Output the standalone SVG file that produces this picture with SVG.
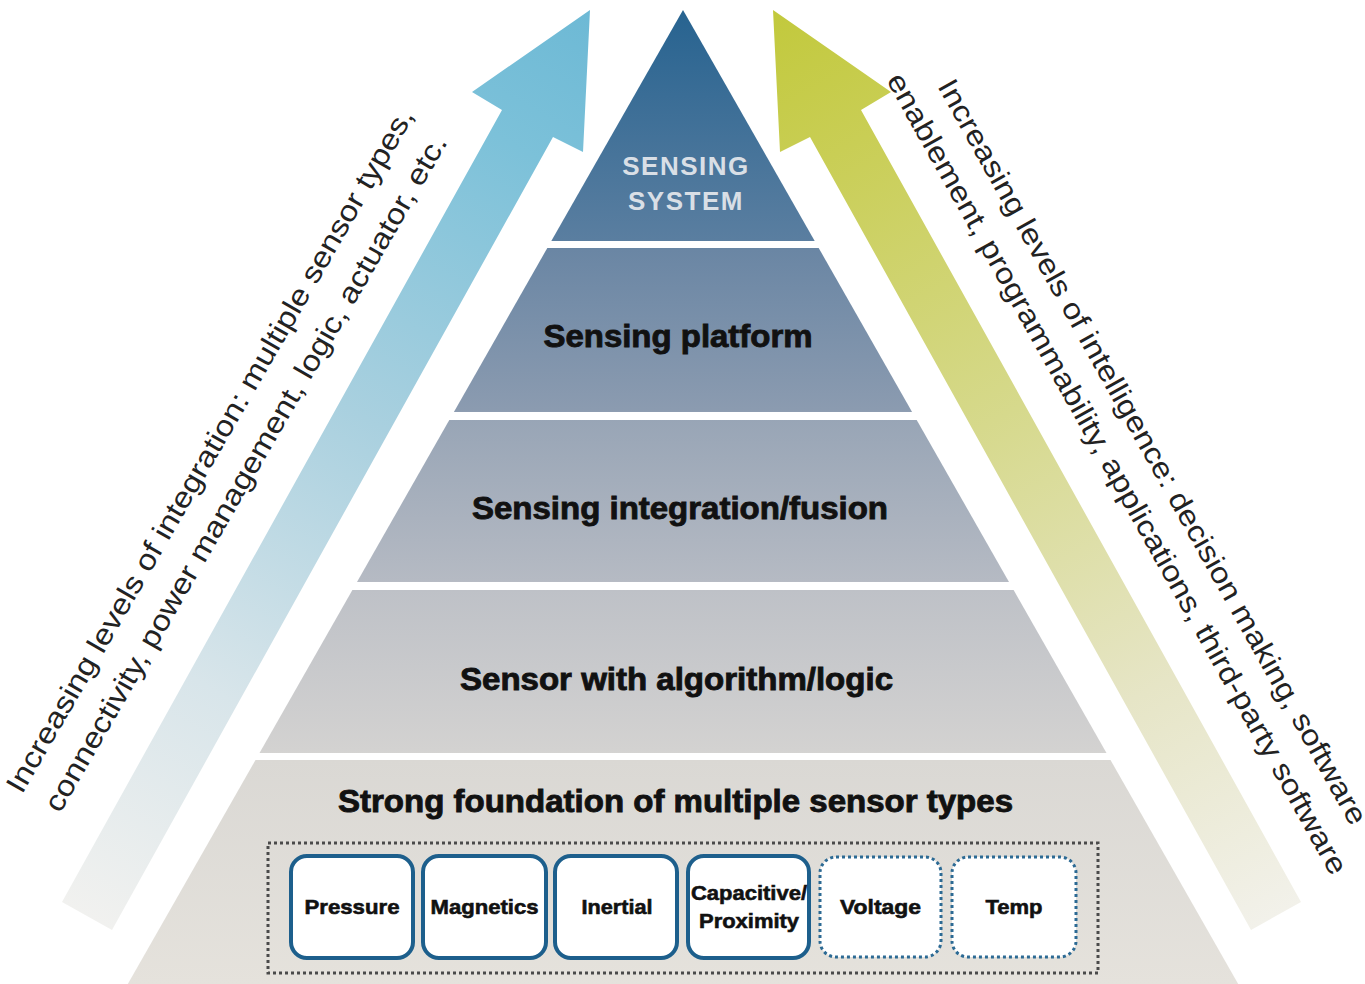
<svg xmlns="http://www.w3.org/2000/svg" width="1365" height="984" viewBox="0 0 1365 984">
  <defs>
    <linearGradient id="pyr" gradientUnits="userSpaceOnUse" x1="0" y1="10" x2="0" y2="984">
      <stop offset="0" stop-color="#276390"/>
      <stop offset="0.236" stop-color="#5a7ea0"/>
      <stop offset="0.246" stop-color="#6a86a4"/>
      <stop offset="0.41" stop-color="#8b9bb0"/>
      <stop offset="0.42" stop-color="#98a5b6"/>
      <stop offset="0.585" stop-color="#b5bac3"/>
      <stop offset="0.595" stop-color="#bec1c7"/>
      <stop offset="0.76" stop-color="#d3d2d1"/>
      <stop offset="0.77" stop-color="#dad8d4"/>
      <stop offset="1" stop-color="#e5e2dc"/>
    </linearGradient>
    <linearGradient id="blueArrow" gradientUnits="userSpaceOnUse" x1="590" y1="10" x2="87" y2="916">
      <stop offset="0" stop-color="#6db9d5"/>
      <stop offset="0.15" stop-color="#7cc1d9"/>
      <stop offset="0.45" stop-color="#a9d0df"/>
      <stop offset="0.75" stop-color="#d8e5ea"/>
      <stop offset="1" stop-color="#f1f1ef"/>
    </linearGradient>
    <linearGradient id="greenArrow" gradientUnits="userSpaceOnUse" x1="773" y1="10" x2="1276" y2="916">
      <stop offset="0" stop-color="#c2c93c"/>
      <stop offset="0.15" stop-color="#c9ce55"/>
      <stop offset="0.45" stop-color="#d6d98c"/>
      <stop offset="0.75" stop-color="#e6e5c6"/>
      <stop offset="1" stop-color="#f2f1ea"/>
    </linearGradient>
  </defs>
  <style>
    .layer { fill: url(#pyr); }
    .gap { fill: #f2f1ef; }
    .title { font-family: "Liberation Sans", Arial, sans-serif; font-weight: bold; font-size: 32px; fill: #111; stroke: #111; stroke-width: 0.9px; text-anchor: middle; }
    .top { font-family: "Liberation Sans", Arial, sans-serif; font-weight: bold; font-size: 26px; fill: #d9dfe6; text-anchor: middle; letter-spacing: 1.5px; }
    .side { font-family: "Liberation Sans", Arial, sans-serif; font-size: 29px; fill: #222; }
    .box { fill: #ffffff; stroke: #1d5f8c; stroke-width: 4; }
    .dbox { fill: #ffffff; stroke: #2c6a94; stroke-width: 3; stroke-dasharray: 3 3; }
    .frame { fill: none; stroke: #4a4a4a; stroke-width: 3; stroke-dasharray: 3 3; }
    .lbl { font-family: "Liberation Sans", Arial, sans-serif; font-weight: bold; font-size: 21px; fill: #111; stroke: #111; stroke-width: 0.6px; text-anchor: middle; }
  </style>
  <rect width="1365" height="984" fill="#ffffff"/>

  <g id="arrows">
    <g id="arrow-integration">
      <polygon points="590,10 583,152 553,137 112,930 62,902 502,110 472,92" fill="url(#blueArrow)"/>
      <text class="side" transform="translate(22,795) rotate(-60)" textLength="785" lengthAdjust="spacingAndGlyphs">Increasing levels of integration: multiple sensor types,</text>
      <text class="side" transform="translate(60,814) rotate(-60)" textLength="776" lengthAdjust="spacingAndGlyphs">connectivity, power management, logic, actuator, etc.</text>
    </g>
    <g id="arrow-intelligence">
      <polygon points="773,10 780,152 810,137 1251,930 1301,902 861,110 891,92" fill="url(#greenArrow)"/>
      <text class="side" transform="translate(937,86) rotate(60.8)" textLength="849" lengthAdjust="spacingAndGlyphs">Increasing levels of intelligence: decision making, software</text>
      <text class="side" transform="translate(886,80) rotate(60.8)" textLength="913" lengthAdjust="spacingAndGlyphs">enablement, programmability, applications, third-party software</text>
    </g>
  </g>

  <g id="layer-sensing-system">
    <polygon class="layer" points="683,10 814.7,241 551.3,241"/>
    <text class="top" x="686" y="175">SENSING</text>
    <text class="top" x="686" y="210">SYSTEM</text>
  </g>
  <g id="layer-sensing-platform">
    <polygon class="layer" points="547.3,248 818.7,248 912.1,412 453.9,412"/>
    <text class="title" x="678" y="347" textLength="269" lengthAdjust="spacingAndGlyphs">Sensing platform</text>
  </g>
  <g id="layer-integration">
    <polygon class="layer" points="449.3,420 916.7,420 1009,582 357,582"/>
    <text class="title" x="680" y="519" textLength="416" lengthAdjust="spacingAndGlyphs">Sensing integration/fusion</text>
  </g>
  <g id="layer-algorithm">
    <polygon class="layer" points="352.4,590 1013.6,590 1106.5,753 259.5,753"/>
    <text class="title" x="676.5" y="690" textLength="433" lengthAdjust="spacingAndGlyphs">Sensor with algorithm/logic</text>
  </g>
  <g id="layer-foundation">
    <polygon class="layer" points="255.5,760 1110.5,760 1238.2,984 127.8,984"/>
    <text class="title" x="675.5" y="812" textLength="675" lengthAdjust="spacingAndGlyphs">Strong foundation of multiple sensor types</text>
    <rect class="frame" x="268" y="843" width="830" height="130"/>
  </g>

  <g id="sensor-pressure">
    <rect class="box" x="291" y="856" width="122" height="102" rx="16"/>
    <text class="lbl" x="352" y="914" textLength="95" lengthAdjust="spacingAndGlyphs">Pressure</text>
  </g>
  <g id="sensor-magnetics">
    <rect class="box" x="423" y="856" width="123" height="102" rx="16"/>
    <text class="lbl" x="484.5" y="914" textLength="108" lengthAdjust="spacingAndGlyphs">Magnetics</text>
  </g>
  <g id="sensor-inertial">
    <rect class="box" x="555" y="856" width="122" height="102" rx="16"/>
    <text class="lbl" x="617" y="914" textLength="71" lengthAdjust="spacingAndGlyphs">Inertial</text>
  </g>
  <g id="sensor-capacitive">
    <rect class="box" x="688" y="856" width="121" height="102" rx="16"/>
    <text class="lbl" x="749" y="900" textLength="116" lengthAdjust="spacingAndGlyphs">Capacitive/</text>
    <text class="lbl" x="749" y="928" textLength="100" lengthAdjust="spacingAndGlyphs">Proximity</text>
  </g>
  <g id="sensor-voltage">
    <rect class="dbox" x="820" y="857" width="121" height="100" rx="16"/>
    <text class="lbl" x="880.5" y="914" textLength="81" lengthAdjust="spacingAndGlyphs">Voltage</text>
  </g>
  <g id="sensor-temp">
    <rect class="dbox" x="952" y="857" width="124" height="100" rx="16"/>
    <text class="lbl" x="1014" y="914" textLength="57" lengthAdjust="spacingAndGlyphs">Temp</text>
  </g>
</svg>
